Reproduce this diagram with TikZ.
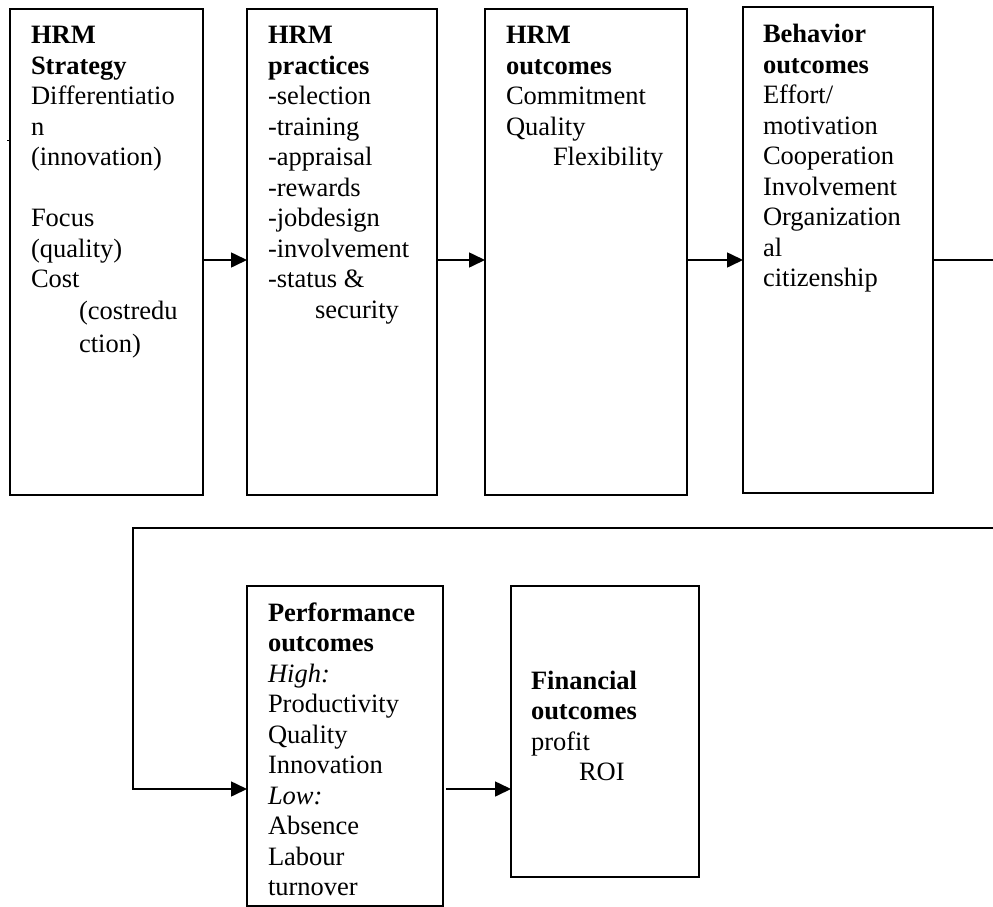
\documentclass[tikz,border=0pt]{standalone}
\usepackage{fontspec}
\setmainfont{Liberation Serif}
\usetikzlibrary{arrows.meta,calc}
\tikzset{
  hbox/.style={draw, line width=1.6pt, anchor=north west, inner sep=0pt, outer sep=0pt},
  htext/.style={anchor=base west, inner sep=0pt, outer sep=0pt, font=\fontsize{26.5}{30.5}\selectfont},
  arr/.style={line width=1.6pt, -{Triangle[length=16pt,width=15pt]}},
  plain/.style={line width=1.6pt}
}
\newcommand{\tb}[1]{\parbox[t]{240pt}{\raggedright #1}}
\begin{document}
\begin{tikzpicture}[x=1pt,y=-1pt]
\useasboundingbox (0,0) rectangle (993,907);
% boxes
\node[hbox, minimum width=193pt, minimum height=486pt] (b1) at (10,9) {};
\node[hbox, minimum width=190pt, minimum height=486pt] (b2) at (247,9) {};
\node[hbox, minimum width=202pt, minimum height=486pt] (b3) at (485,9) {};
\node[hbox, minimum width=190pt, minimum height=486pt] (b4) at (743,7) {};
\node[hbox, minimum width=196pt, minimum height=320pt] (b5) at (247,586) {};
\node[hbox, minimum width=188pt, minimum height=291pt] (b6) at (511,586) {};
% texts
\node[htext] (t1) at (31,44) {\tb{\textbf{HRM}\\\textbf{Strategy}\\Differentiatio\\n\\(innovation)\\~\\Focus\\(quality)\\Cost\\[1.5pt]\hspace*{48pt}(costredu\\[2.5pt]\hspace*{48pt}ction)}};
\node[htext] (t2) at (268,44) {\tb{\textbf{HRM}\\\textbf{practices}\\-selection\\-training\\-appraisal\\-rewards\\-jobdesign\\-involvement\\-status \&\\\hspace*{47pt}security}};
\node[htext] (t3) at (506,44) {\tb{\textbf{HRM}\\\textbf{outcomes}\\Commitment\\Quality\\\hspace*{47pt}Flexibility}};
\node[htext] (t4) at (763,43) {\tb{\textbf{Behavior}\\\textbf{outcomes}\\Effort/\\motivation\\Cooperation\\Involvement\\Organization\\al\\citizenship}};
\node[htext] (t5) at (268,621) {\tb{\textbf{Performance}\\\textbf{outcomes}\\\textit{High:}\\Productivity\\Quality\\Innovation\\\textit{Low:}\\Absence\\Labour\\turnover}};
\node[htext] (t6) at (531,689) {\tb{\textbf{Financial}\\\textbf{outcomes}\\profit\\\hspace*{48pt}ROI}};
% reference coordinates
\coordinate (r1) at (0,260);
\coordinate (r2) at (0,789);
\coordinate (c1) at (1010,260);
\coordinate (c2) at (133,528);
\coordinate (tk) at (0,140);
% connectors
\draw[arr] (b1.east |- r1) -- (b2.west |- r1);
\draw[arr] (b2.east |- r1) -- (b3.west |- r1);
\draw[arr] (b3.east |- r1) -- (b4.west |- r1);
\draw[arr] (b4.east |- r1) -- (c1) |- (c2) |- (b5.west |- r2);
\draw[arr, shorten <=3pt] (b5.east |- r2) -- (b6.west |- r2);
\draw[line width=1pt] (b1.west |- tk) -- ++(-3,0);
\end{tikzpicture}
\end{document}
